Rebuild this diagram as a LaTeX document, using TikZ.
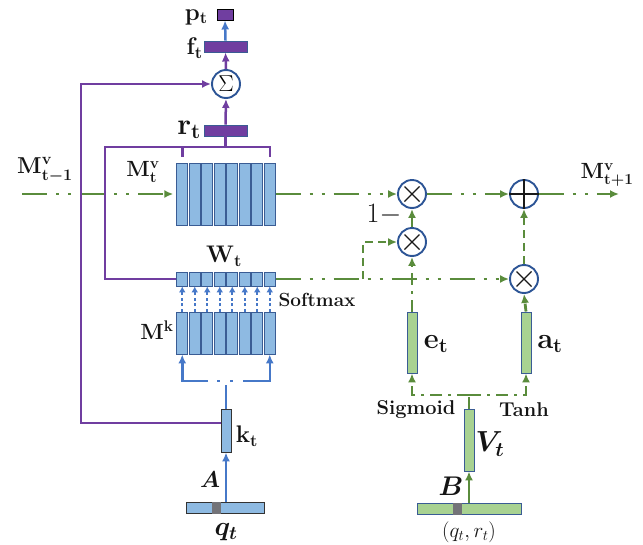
\RequirePackage{fix-cm}
\documentclass[tikz,border=0pt]{standalone}
\usepackage{amsmath}
\usetikzlibrary{arrows.meta}
\definecolor{cfill}{RGB}{142,186,226}
\definecolor{cedge}{RGB}{58,92,148}
\definecolor{cpur}{RGB}{112,62,160}
\definecolor{cgreen}{RGB}{90,140,60}
\definecolor{gfill}{RGB}{168,210,145}
\definecolor{carrow}{RGB}{70,120,200}
\definecolor{ccirc}{RGB}{45,85,150}
\definecolor{cgray}{RGB}{115,115,120}
\newcommand\fs[1]{\fontsize{#1}{#1}\selectfont}
\begin{document}
\begin{tikzpicture}[x=1pt,y=-1pt,
  colbox/.style={draw=cedge,line width=0.9pt,fill=cfill,inner sep=0pt,minimum width=11pt},
  bluebar/.style={draw=black!80,line width=0.9pt,fill=cfill,inner sep=0pt},
  greenbar/.style={draw=cedge,line width=0.9pt,fill=gfill,inner sep=0pt},
  purbar/.style={draw=cedge,line width=0.9pt,fill=cpur,inner sep=0pt},
  graybox/.style={draw=cgray,fill=cgray,inner sep=0pt,minimum width=8pt,minimum height=11pt},
  opcirc/.style={circle,draw=ccirc,line width=1.9pt,fill=white,inner sep=0pt,minimum size=28pt},
  arr/.style={-{Latex[length=9pt,width=8pt]}},
  pline/.style={draw=cpur,line width=2.5pt},
  bline/.style={draw=carrow,line width=2.5pt},
  gsolid/.style={draw=cgreen,line width=2.8pt},
  gdd/.style={draw=cgreen,line width=2.8pt,dash pattern=on 25pt off 9pt on 3pt off 9pt on 3pt off 9pt},
  gdot/.style={draw=cgreen,line width=2.8pt,dash pattern=on 12pt off 6pt on 3pt off 6pt},
  gdash/.style={draw=cgreen,line width=2.8pt,dash pattern=on 8pt off 5pt},
  dotarrow/.style={draw=carrow,line width=2.4pt,dash pattern=on 3pt off 2.5pt,-{Latex[length=6pt,width=7pt]}},
  lab/.style={inner sep=0pt,text=black!92}
]
\useasboundingbox (0,0) rectangle (643,544);

% ---------- column stacks ----------
\foreach \i in {1,...,8}{
  \pgfmathsetmacro\cx{176+6.25+12.5*(\i-1)}
  \node[colbox,minimum height=62pt] (mv\i) at (\cx,194) {};
  \node[colbox,minimum height=14pt] (w\i) at (\cx,279) {};
  \node[colbox,minimum height=42pt] (k\i) at (\cx,333) {};
}

% ---------- bars ----------
\node[purbar,draw=black,minimum width=16pt,minimum height=11pt] (p) at (225,14.5) {};
\node[purbar,minimum width=43pt,minimum height=11pt] (f) at (225.5,46.5) {};
\node[purbar,minimum width=43pt,minimum height=11pt] (r) at (225.5,130.5) {};
\node[bluebar,minimum width=10pt,minimum height=43pt] (kt) at (226,430.5) {};
\node[bluebar,minimum width=78pt,minimum height=11pt] (qb) at (225,507.5) {};
\node[graybox] (qg) at (216,507.5) {};
\node[greenbar,minimum width=10pt,minimum height=61pt] (et) at (412,342.5) {};
\node[greenbar,minimum width=10pt,minimum height=61pt] (atb) at (526,342.5) {};
\node[greenbar,minimum width=10pt,minimum height=62pt] (vt) at (469,440) {};
\node[greenbar,minimum width=104pt,minimum height=11pt] (bb) at (469,508.5) {};
\node[graybox] (bg) at (457,508.5) {};

% ---------- coordinates ----------
\coordinate (gs) at (22,194);
\coordinate (ge) at (619,194);
\coordinate (br) at (363,279);
\coordinate (jn) at (469,395);
\coordinate (bl) at (105,147);
\coordinate (tk) at (0,157);
\coordinate (lp) at (81,84);
\coordinate (bk1) at (208,381);
\coordinate (bk2) at (243,381);
\coordinate (bv) at (226,385);

% ---------- green memory lines ----------
\draw[gdd,arr,shorten >=3pt] (gs) -- (mv1.west);

% ---------- operators ----------
\node[opcirc] (sig) at (226,84) {{\fs{23}$\Sigma$}};
\node[opcirc] (m1) at (412,194) {};
\node[opcirc] (m2) at (412,242) {};
\node[opcirc] (ad) at (524,194) {};
\node[opcirc] (m3) at (524,279) {};
\foreach \n in {m1,m2,m3}{
  \draw[line width=1.3pt,black!90] ([shift={(-7.5,-7.5)}]\n.center) -- ([shift={(7.5,7.5)}]\n.center);
  \draw[line width=1.3pt,black!90] ([shift={(-7.5,7.5)}]\n.center) -- ([shift={(7.5,-7.5)}]\n.center);
}
\draw[line width=1.3pt,black!90] (ad.west) -- (ad.east);
\draw[line width=1.3pt,black!90] (ad.north) -- (ad.south);

\draw[gdd,arr] (mv8.east) -- (m1.west);
\draw[gdd,arr] (m1.east) -- (ad.west);
\draw[gdd,arr] (ad.east) -- (ge);
\draw[gdd,arr] (w8.east) -- (m3.west);
\draw[gdash,arr] (br) |- (m2.west);
\draw[gsolid,arr] (m2.north) -- (m1.south);
\draw[gdot,arr] (et.north) -- (m2.south);
\draw[gdash,arr] (atb.north) -- (m3.south);
\draw[gdash,arr] (m3.north) -- (ad.south);
\draw[gdot] (vt.north) -- (jn);
\draw[gdot,arr] (jn) -| (et.south);
\draw[gdot,arr] (jn) -| (atb.south);
\draw[gsolid,arr] (bb.north) -- (vt.south);

% ---------- purple lines ----------
\draw[pline] (w1.west) -| (bl) -- (bl -| mv8.north) -- (tk -| mv8.north);
\draw[pline] (bl -| mv1.north) -- (tk -| mv1.north);
\draw[pline] (r.south) -- (r.south |- bl);
\draw[pline,arr] ([yshift=7.5pt]kt.west) -| (lp) -- (sig.west);
\draw[pline,arr] (r.north) -- (sig.south);
\draw[pline,arr] (sig.north) -- (f.south);
\draw[bline,arr] (f.north) -- (p.south);

% ---------- blue key lines ----------
\foreach \i in {1,...,8}{
  \draw[dotarrow] (k\i.north) -- (w\i.south);
}
\draw[bline,arr] (bk1) -| (k1.south);
\draw[bline,arr] (bk2) -| (k8.south);
\draw[bline] (217,381) -- (220,381);
\draw[bline] (230,381) -- (233,381);
\draw[bline] (kt.north) -- (bv);
\draw[bline,arr] (kt.south |- qb.north) -- (kt.south);

% ---------- labels ----------
\node[lab,anchor=east] (lpt) at (208,17) {{\fs{24}$\mathbf{p_t}$}};
\node[lab,anchor=east] (lft) at (203,48) {{\fs{24}$\mathbf{f_t}$}};
\node[lab,anchor=east] (lrt) at (201,130) {{\fs{30}$\mathbf{r_t}$}};
\node[lab] (lm1) at (45,170) {{\fs{23}\boldmath$\mathbf{M^v_{t-1}}$}};
\node[lab] (lm2) at (143,172) {{\fs{22}\boldmath$\mathbf{M^v_{t}}$}};
\node[lab] (lm3) at (607,175) {{\fs{22}\boldmath$\mathbf{M^v_{t+1}}$}};
\node[lab] (lone) at (384,215) {{\fs{28}$1{-}$}};
\node[lab] (lwt) at (224,256) {{\fs{24}$\mathbf{W_t}$}};
\node[lab] (lsm) at (317,300) {{\fs{19}\bfseries Softmax}};
\node[lab] (lmk) at (157,330) {{\fs{22}$\mathbf{M^k}$}};
\node[lab] (let) at (436,344) {{\fs{29}$\mathbf{e_t}$}};
\node[lab] (lat) at (550,344) {{\fs{29}$\mathbf{a_t}$}};
\node[lab] (lkt) at (247,436) {{\fs{24}$\mathbf{k_t}$}};
\node[lab] (lsg) at (416,410) {{\fs{20}\bfseries Sigmoid}};
\node[lab] (lth) at (524,410) {{\fs{20}\bfseries Tanh}};
\node[lab] (lvt) at (490,444) {{\fs{29}\boldmath$V_t$}};
\node[lab] (la) at (210,480) {{\fs{23}\boldmath$A$}};
\node[lab] (lb) at (451,486) {{\fs{27}\boldmath$B$}};
\node[lab] (lq) at (226,532) {{\fs{27}\boldmath$q_t$}};
\node[lab] (lqr) at (469,532) {{\fs{21}$(q_t,r_t)$}};
\end{tikzpicture}
\end{document}
